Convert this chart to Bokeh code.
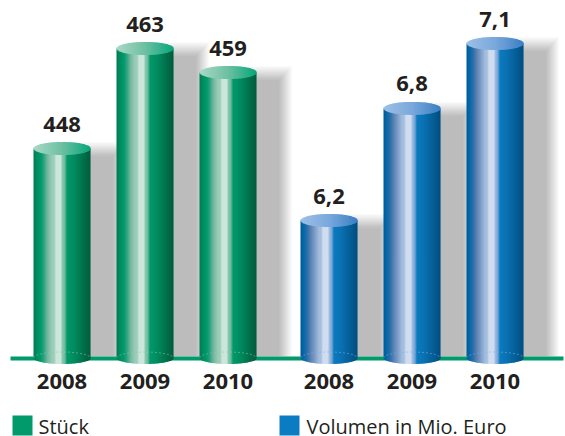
import math
from bokeh.plotting import figure
from bokeh.models import Range1d
from bokeh.core.properties import value
from bokeh.embed import file_html
from bokeh.resources import INLINE

# ---- data ----
years = ["2008", "2009", "2010"]
stueck_labels = ["448", "463", "459"]
stueck_values = [448, 463, 459.4]
volumen_labels = ["6,2", "6,8", "7,1"]
volumen_values = [6.2, 6.77, 7.1]
legend_names = ["Stück", "Volumen in Mio. Euro"]

# ---- layout (x and y below are page pixels of the 565x436 picture) ----
PAGE = 0
W, H = 565, 436
CENTERS_G = [61.5, 144.5, 227.5]
CENTERS_B = [328.5, 411.5, 494.5]
BAR_W = 57
RX = BAR_W / 2
RY_TOP, RY_BOT = 6.5, 6
BASE_PX = 357.5
INK = "#231f20"
GREEN, BLUE = "#009a6b", "#0a7dc2"
TEXT_SHIFT = 7.5

G_STOPS = [(0, "#007a52"), (.05, "#008a5e"), (.13, "#009a6b"), (.18, "#2ca27f"), (.25, "#76b9a0"),
           (.33, "#9ccdb9"), (.375, "#9ccdb9"), (.38, "#cbe6da"), (.49, "#cbe6da"), (.50, "#8fcab2"),
           (.56, "#62b799"), (.58, "#009a6b"), (.72, "#008a5e"), (1, "#005b3b")]
B_STOPS = [(0, "#005a96"), (.05, "#0068a8"), (.12, "#2f6fa8"), (.18, "#5b84b4"), (.25, "#7c9cc8"),
           (.33, "#a5bede"), (.375, "#a5bede"), (.38, "#d0ddf1"), (.49, "#d0ddf1"), (.50, "#a5c0e2"),
           (.56, "#6a9fd4"), (.58, "#0a7cc0"), (.72, "#0a70b0"), (1, "#004e7f")]
G_TOP = [(0, "#a9d9c5"), (.5, "#6cc0a2"), (1, "#06a67a")]
B_TOP = [(0, "#9cc0e6"), (.5, "#7aa8dc"), (1, "#3a7fc4")]


def mix(stops, t):
    for (a, ca), (b, cb) in zip(stops, stops[1:]):
        if t <= b:
            f = (t - a) / (b - a) if b > a else 0
            rgb = [round(int(ca[i:i + 2], 16) * (1 - f) + int(cb[i:i + 2], 16) * f) for i in (1, 3, 5)]
            return "#%02x%02x%02x" % tuple(rgb)
    return stops[-1][1]


# value scales: anchored on two bars
G_PX_PER = 100 / 15
B_PX_PER = 177 / 0.9
g_start, g_end = 448 - (H - 148) / G_PX_PER, 448 + (148 - PAGE) / G_PX_PER
b_start, b_end = 6.2 - (H - 220) / B_PX_PER, 6.2 + (220 - PAGE) / B_PX_PER


def g_px(v):
    return 148 + (448 - v) * G_PX_PER


def b_px(v):
    return 220 - (v - 6.2) * B_PX_PER


p = figure(width=W - PAGE, height=H - PAGE, output_backend="svg", toolbar_location=None,
           x_range=Range1d(PAGE, W), y_range=Range1d(g_start, g_end),
           min_border=0, outline_line_color=None, background_fill_color="white",
           border_fill_color="white")
p.extra_y_ranges = {"vol": Range1d(b_start, b_end)}
p.axis.visible = False
p.grid.visible = False


def y_of_px(px):  # page pixel -> primary value axis
    return 448 - (px - 148) / G_PX_PER


def b_val(px):
    return 6.2 - (px - 220) / B_PX_PER


LAYERS = 14
ALPHA = 0.0195


def shadows(centers, values, to_px, to_val, rng):
    for c, v in zip(centers, values):
        top = to_px(v) - RY_TOP
        for k in range(LAYERS):
            p.quad(left=[c], right=[c + 64 - k * 1.0],
                   top=[to_val(top + k * 1.1)], bottom=[to_val(356)],
                   fill_color="black", fill_alpha=ALPHA, line_color=None, y_range_name=rng)


def cylinders(centers, values, to_px, to_val, rng, stops, top_stops, arc):
    for c, v in zip(centers, values):
        ypx = to_px(v)
        left, right, tops, bottoms, colors = [], [], [], [], []
        l2, r2, t2, b2, c2 = [], [], [], [], []
        for i in range(BAR_W):
            x0 = c - RX + i
            u = (i + .5) / BAR_W
            s = math.sqrt(max(0, 1 - (2 * u - 1) ** 2))
            w = 1.6 if i < BAR_W - 1 else 1
            left.append(x0)
            right.append(x0 + w)
            tops.append(to_val(ypx))
            bottoms.append(to_val(BASE_PX + RY_BOT * s))
            colors.append(mix(stops, u))
            l2.append(x0)
            r2.append(x0 + w)
            t2.append(to_val(ypx - RY_TOP * s))
            b2.append(to_val(ypx + RY_TOP * s))
            c2.append(mix(top_stops, u))
        p.quad(left=left, right=right, top=tops, bottom=bottoms, fill_color=colors, line_color=None, y_range_name=rng)
        p.quad(left=l2, right=r2, top=t2, bottom=b2, fill_color=c2, line_color=None, y_range_name=rng)
        n = 40
        xs = [c - RX + BAR_W * j / n for j in range(n + 1)]
        ys = [to_val(BASE_PX - RY_BOT * math.sqrt(max(0, 1 - (2 * j / n - 1) ** 2))) for j in range(n + 1)]
        p.line(xs, ys, line_color=arc, line_width=0.8, line_dash="2 2", line_alpha=0.7, y_range_name=rng)


shadows(CENTERS_G, stueck_values, g_px, y_of_px, "default")
shadows(CENTERS_B, volumen_values, b_px, b_val, "vol")

# base line
p.quad(left=[10], right=[W - 2], top=[y_of_px(356)], bottom=[y_of_px(360)], fill_color=GREEN, line_color=None)

cylinders(CENTERS_G, stueck_values, g_px, y_of_px, "default", G_STOPS, G_TOP, "#7fd0b0")
cylinders(CENTERS_B, volumen_values, b_px, b_val, "vol", B_STOPS, B_TOP, "#7fb0e0")


def label(x, ypx, text, bold=True, size="22px", align="center"):
    p.text([x], [y_of_px(ypx - TEXT_SHIFT)], text=[text], text_font=value("Open Sans"),
           text_font_style="bold" if bold else "normal", text_font_size=size,
           text_color=INK, text_align=align, text_baseline="alphabetic")


for c, v, t in zip(CENTERS_G, stueck_values, stueck_labels):
    label(c, g_px(v) - 17, t)
for c, v, t in zip(CENTERS_B, volumen_values, volumen_labels):
    label(c, b_px(v) - 17, t)
for c, t in zip(CENTERS_G + CENTERS_B, years + years):
    label(c, 388, t)

# legend
p.quad(left=[12], right=[32], top=[y_of_px(415)], bottom=[y_of_px(435)], fill_color=GREEN, line_color=None)
p.quad(left=[279], right=[299], top=[y_of_px(415)], bottom=[y_of_px(435)], fill_color=BLUE, line_color=None)
label(38, 433, legend_names[0], bold=False, size="20px", align="left")
label(306, 433, legend_names[1], bold=False, size="20px", align="left")

open("out.html", "w").write(file_html(p, INLINE))
